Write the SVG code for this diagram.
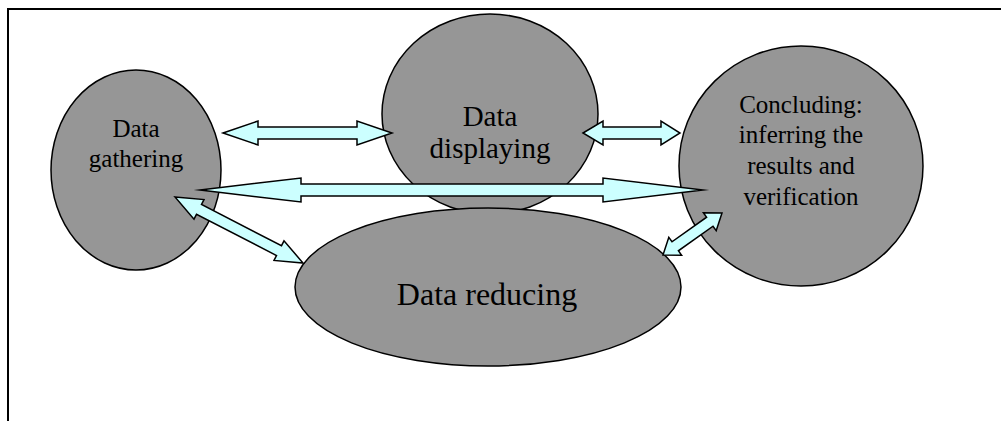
<svg xmlns="http://www.w3.org/2000/svg" width="1001" height="421" viewBox="0 0 1001 421">
<style>
.node{fill:#969696;stroke:#000;stroke-width:1.5}
.lbl{font-family:"Liberation Serif","Times New Roman",serif;fill:#000;text-anchor:middle}
.arr{fill:#CCFFFF;stroke:#000;stroke-width:1.5;stroke-linejoin:miter;stroke-miterlimit:12}
</style>
<rect width="1001" height="421" fill="#fff"/>
<path d="M8,421 V9 H1001" fill="none" stroke="#000" stroke-width="2"/>
<g id="gathering">
<ellipse class="node" cx="136" cy="170" rx="85" ry="100"/>
<text class="lbl" font-size="25"><tspan x="136" y="137">Data</tspan><tspan x="136" y="167">gathering</tspan></text>
</g>
<g id="displaying">
<ellipse class="node" cx="490" cy="114" rx="108" ry="100"/>
<text class="lbl" font-size="29"><tspan x="490" y="126">Data</tspan><tspan x="490" y="158">displaying</tspan></text>
</g>
<g id="concluding">
<ellipse class="node" cx="801" cy="166" rx="122" ry="120"/>
<text class="lbl" font-size="25"><tspan x="801" y="113">Concluding:</tspan><tspan x="801" y="143">inferring the</tspan><tspan x="801" y="174">results and</tspan><tspan x="801" y="205">verification</tspan></text>
</g>
<g id="reducing">
<ellipse class="node" cx="488" cy="287" rx="193" ry="79"/>
<text class="lbl" font-size="32" x="487" y="305">Data reducing</text>
</g>
<g id="connectors">
<polygon class="arr" points="223,133 258,121 258,127 357,127 357,121 392,133 357,145 357,139 258,139 258,145"/>
<polygon class="arr" points="583,133 603,121 603,127 661,127 661,121 680,133 661,145 661,139 603,139 603,145"/>
<polygon class="arr" points="200,190 301,178 301,184 603,184 603,178 703,190 603,202 603,196 301,196 301,202"/>
<polygon class="arr" points="175,197 204,199.6 201.5,204.5 281.5,245.7 284,240.8 303,263 274,260.4 276.5,255.5 196.5,214.3 194,219.2"/>
<polygon class="arr" points="663,255 668.8,237.3 672,241.8 706.6,217.2 703.4,212.7 722,213 716.2,230.7 713,226.2 678.4,250.8 681.6,255.3"/>
</g>
</svg>
